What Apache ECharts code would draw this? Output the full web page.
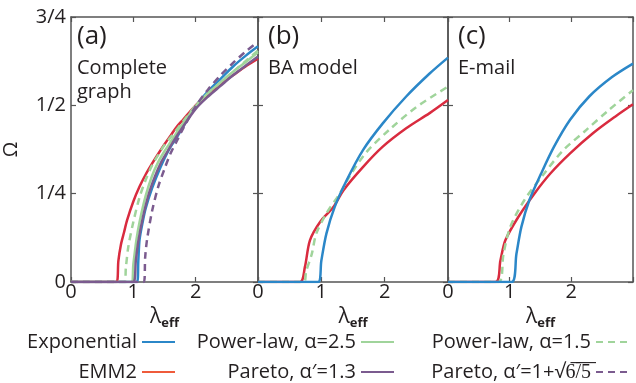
<!DOCTYPE html>
<html>
<head>
<meta charset="utf-8">
<script src="https://cdn.jsdelivr.net/npm/echarts@6/dist/echarts.min.js"></script>
<style>
  html, body { margin: 0; padding: 0; background: #fff; }
  #chart { width: 636px; height: 383px; }
</style>
</head>
<body>
<div id="chart"></div>
<script>
// tick labels
const xTicks = [0, 1, 2];
const yTickLabels = { 0: '0', 0.25: '1/4', 0.5: '1/2', 0.75: '3/4' };
const panelTitles = ['(a)', '(b)', '(c)'];
const panelSubtitles = ['Complete\ngraph', 'BA model', 'E-mail'];

// series names
const EXP = 'Exponential';
const EMM = 'EMM2';
const PL25 = 'Power-law, α=2.5';
const PL15 = 'Power-law, α=1.5';
const PAR13 = 'Pareto, α′=1.3';
const PARSQ = 'Pareto, α′=1+√6̅/̅5̅';

// (a) complete graph  [lambda_eff, omega]
const aExp = [[0,0],[1.06,0],[1.08,0.06],[1.1,0.12],[1.15,0.17],[1.2,0.21],[1.3,0.265],[1.4,0.31],[1.5,0.35],[1.6,0.383],[1.7,0.41],[1.8,0.44],[2.0,0.497],[2.2,0.54],[2.4,0.575],[2.6,0.61],[2.8,0.64],[3.0,0.667]];
const aEmm = [[0,0],[0.73,0],[0.76,0.06],[0.8,0.105],[0.85,0.14],[0.9,0.175],[1.0,0.228],[1.1,0.27],[1.2,0.305],[1.3,0.335],[1.4,0.363],[1.5,0.39],[1.6,0.415],[1.7,0.44],[1.8,0.46],[1.9,0.48],[2.0,0.5],[2.2,0.53],[2.4,0.56],[2.6,0.585],[2.8,0.61],[3.0,0.632]];
const aPl25 = [[0,0],[0.97,0],[1.0,0.05],[1.05,0.12],[1.1,0.17],[1.2,0.245],[1.3,0.3],[1.4,0.34],[1.5,0.37],[1.6,0.397],[1.8,0.45],[2.0,0.498],[2.2,0.535],[2.4,0.565],[2.6,0.595],[2.8,0.622],[3.0,0.65]];
const aPl15 = [[0,0],[0.86,0],[0.88,0.04],[0.92,0.1],[1.0,0.17],[1.1,0.24],[1.2,0.29],[1.3,0.33],[1.4,0.36],[1.5,0.388],[1.6,0.41],[1.8,0.455],[2.0,0.5],[2.2,0.535],[2.4,0.565],[2.6,0.595],[2.8,0.625],[3.0,0.655]];
const aPar13 = [[0,0],[1.0,0],[1.04,0.06],[1.08,0.115],[1.15,0.18],[1.25,0.25],[1.35,0.3],[1.45,0.34],[1.55,0.37],[1.65,0.4],[1.8,0.44],[2.0,0.49],[2.2,0.525],[2.4,0.555],[2.6,0.585],[2.8,0.612],[3.0,0.638]];
const aParSq = [[0,0],[1.17,0],[1.19,0.07],[1.22,0.12],[1.3,0.2],[1.4,0.27],[1.5,0.32],[1.6,0.365],[1.7,0.4],[1.8,0.435],[2.0,0.497],[2.2,0.545],[2.4,0.585],[2.6,0.62],[2.8,0.652],[3.0,0.68]];

// (b) BA model
const bExp = [[0,0],[0.95,0],[1.0,0.06],[1.08,0.137],[1.21,0.212],[1.4,0.288],[1.66,0.374],[1.97,0.449],[2.34,0.525],[2.71,0.59],[3.0,0.635]];
const bEmm = [[0,0],[0.66,0],[0.74,0.042],[0.82,0.118],[0.98,0.17],[1.19,0.212],[1.35,0.26],[1.66,0.326],[1.97,0.383],[2.34,0.435],[2.71,0.478],[3.0,0.515]];
const bPl15 = [[0,0],[0.72,0],[0.76,0.03],[0.85,0.08],[0.92,0.137],[1.08,0.194],[1.29,0.25],[1.45,0.3],[1.71,0.367],[2.08,0.432],[2.5,0.495],[3.0,0.553]];

// (c) E-mail
const cExp = [[0,0],[1.03,0],[1.11,0.08],[1.19,0.156],[1.32,0.232],[1.51,0.307],[1.72,0.383],[1.98,0.459],[2.29,0.525],[2.66,0.58],[3.0,0.618]];
const cEmm = [[0,0],[0.77,0],[0.85,0.061],[0.93,0.118],[1.14,0.184],[1.40,0.25],[1.66,0.307],[1.98,0.364],[2.35,0.421],[2.71,0.468],[3.0,0.503]];
const cPl15 = [[0,0],[0.82,0],[0.9,0.08],[1.01,0.156],[1.24,0.232],[1.56,0.307],[1.87,0.373],[2.24,0.43],[2.61,0.487],[3.0,0.543]];

const colors = {};
colors[EXP] = '#2b87c8';
colors[EMM] = '#d92b3f';
colors[PL25] = '#a0d49b';
colors[PL15] = '#a0d49b';
colors[PAR13] = '#7b5b8f';
colors[PARSQ] = '#7b5b8f';
const dashed = {};
dashed[PL15] = true;
dashed[PARSQ] = true;

const FONT = 'Open Sans';
const TXT = '#231f20';
const AX = '#555';

// draw order: last one ends up on top of the flat part at zero
const panels = [
    [[EXP, aExp], [EMM, aEmm], [PL25, aPl25], [PL15, aPl15], [PAR13, aPar13], [PARSQ, aParSq]],
    [[EMM, bEmm], [PL15, bPl15], [EXP, bExp]],
    [[EMM, cEmm], [PL15, cPl15], [EXP, cExp]]
];
const gridLeft = [67, 258, 448];

const chart = echarts.init(document.getElementById('chart'));

const grid = [], xAxis = [], yAxis = [], series = [], title = [];
const lineAx = { show: true, onZero: false, lineStyle: { color: AX, width: 1.5 } };
const tickIn = { show: true, inside: true, length: 5, lineStyle: { color: AX, width: 1.2 } };

panels.forEach(function (panel, i) {
    grid.push({ left: gridLeft[i], top: 17, width: i === 0 ? 191 : 190, height: 265 });
    // bottom + top
    xAxis.push({
        type: 'value', gridIndex: i, min: 0, max: 3, interval: 1, position: 'bottom',
        axisLine: lineAx, axisTick: tickIn, splitLine: { show: false },
        axisLabel: {
            color: TXT, fontFamily: FONT, fontSize: 20, margin: 0,
            formatter: function (v) { return xTicks.indexOf(v) >= 0 ? String(v) : ''; }
        },
        name: '{l|λ}{s|eff}', nameLocation: 'middle', nameGap: 19,
        nameTextStyle: {
            rich: {
                l: { fontFamily: FONT, fontSize: 21, color: TXT },
                s: { fontFamily: FONT, fontSize: 13, color: TXT, fontWeight: 'bold', padding: [12, 0, 0, 0] }
            }
        }
    });
    xAxis.push({
        type: 'value', gridIndex: i, min: 0, max: 3, interval: 1, position: 'top',
        axisLine: lineAx, axisTick: tickIn, axisLabel: { show: false }, splitLine: { show: false }
    });
    yAxis.push({
        type: 'value', gridIndex: i, min: 0, max: 0.75, interval: 0.25, position: 'left',
        axisLine: lineAx, axisTick: tickIn, splitLine: { show: false },
        axisLabel: {
            show: i === 0, color: TXT, fontFamily: FONT, fontSize: 20, margin: 5,
            formatter: function (v) { return yTickLabels[v]; }
        },
        name: i === 0 ? 'Ω' : '', nameLocation: 'middle', nameGap: 50, nameRotate: 90,
        nameTextStyle: { fontFamily: FONT, fontSize: 20, color: TXT }
    });
    yAxis.push({
        type: 'value', gridIndex: i, min: 0, max: 0.75, interval: 0.25, position: 'right',
        axisLine: lineAx, axisTick: tickIn, axisLabel: { show: false }, splitLine: { show: false }
    });
    panel.forEach(function (s) {
        series.push({
            name: s[0], type: 'line', data: s[1],
            xAxisIndex: i * 2, yAxisIndex: i * 2,
            symbol: 'none', smooth: 0.3,
            lineStyle: { color: colors[s[0]], width: 2.5, type: dashed[s[0]] ? [7, 5] : 'solid' },
            itemStyle: { color: colors[s[0]] }
        });
    });
    title.push({
        text: panelTitles[i], subtext: panelSubtitles[i],
        left: gridLeft[i] + 10, top: 24, itemGap: 6, padding: 0,
        textStyle: { fontFamily: FONT, fontSize: 26, fontWeight: 'normal', color: TXT },
        subtextStyle: { fontFamily: FONT, fontSize: 20, color: TXT, lineHeight: 24 }
    });
});

// one legend per entry so the text is right-aligned against the line
const legendItems = [
    [EXP, 460, 332, null],
    [EMM, 460, 362, '#ef5b3b'],
    [PL25, 241, 332, null],
    [PAR13, 241, 362, null],
    [PL15, 6, 332, null],
    [PARSQ, 6, 362, null]
];
const legend = legendItems.map(function (it) {
    const d = { name: it[0], itemStyle: { opacity: 0 } };
    if (it[3]) d.lineStyle = { color: it[3] };
    return {
        data: [d], right: it[1], top: it[2], align: 'right',
        itemWidth: 33, itemHeight: 20, padding: 0,
        textStyle: { fontFamily: FONT, fontSize: 20, color: TXT }
    };
});

chart.setOption({
    animation: false,
    title: title,
    legend: legend,
    grid: grid,
    xAxis: xAxis,
    yAxis: yAxis,
    series: series
});
</script>
</body>
</html>
